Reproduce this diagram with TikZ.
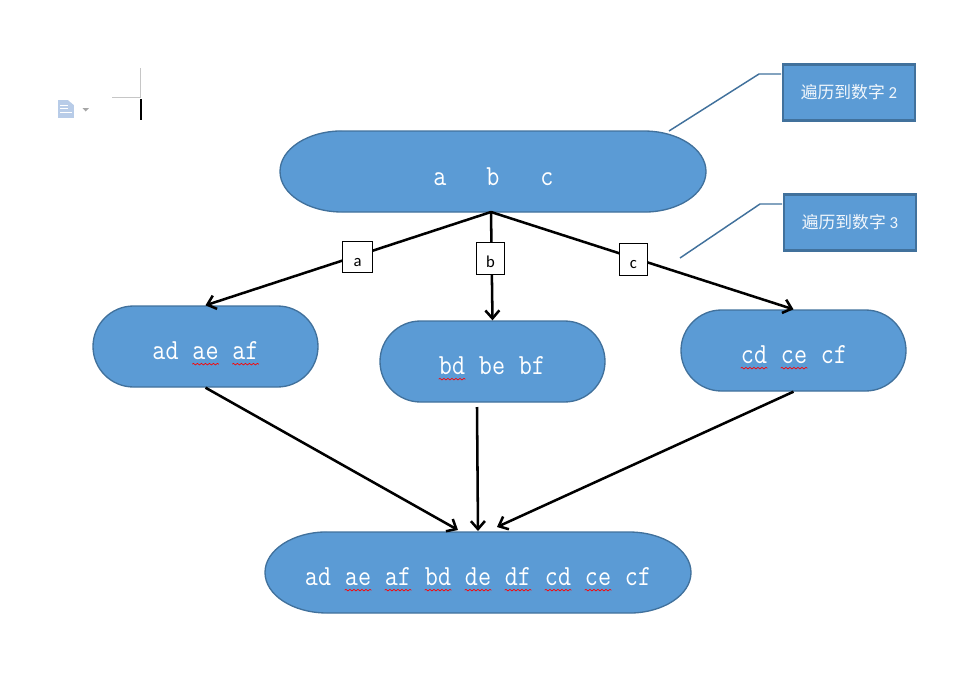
\documentclass[tikz,border=0pt]{standalone}
\usepackage{fontspec}
\setmainfont{Carlito}
\newfontfamily\cjk{Noto Sans CJK SC}
\usetikzlibrary{arrows.meta}
\usetikzlibrary{shapes.misc}
\usetikzlibrary{decorations.pathmorphing}
\definecolor{pillfill}{HTML}{5B9BD5}
\definecolor{pillline}{HTML}{41719C}
\definecolor{iconblue}{HTML}{B8CCE8}
\tikzset{
    pill/.style={
        rounded rectangle,
        draw=pillline,
        fill=pillfill,
        line width=1pt,
        minimum width=168.75pt,
        minimum height=60.75pt,
        inner sep=0pt
    },
    widepill/.style={
        draw=pillline,
        fill=pillfill,
        line width=1pt
    },
    anchorbox/.style={
        rectangle,
        minimum width=319.5pt,
        minimum height=60.75pt,
        inner sep=0pt
    },
    word/.style={
        anchor=base,
        inner sep=0pt,
        text=white,
        yscale=1.15,
        transform shape,
        font=\ttfamily\fontsize{19}{19}\selectfont
    },
    spell/.style={
        draw=red,
        line width=0.5pt,
        decorate,
        decoration={snake,amplitude=0.6pt,segment length=3pt}
    },
    callout/.style={
        rectangle,
        draw=pillline,
        fill=pillfill,
        line width=1.6pt,
        minimum width=99.5pt,
        minimum height=42pt,
        inner sep=0pt,
        text=white!92!pillfill,
        font=\fontsize{12.6}{12.6}\selectfont
    },
    leader/.style={
        draw=pillline,
        line width=1.1pt
    },
    tag/.style={
        rectangle,
        draw=black,
        fill=white,
        line width=0.6pt,
        minimum width=21.5pt,
        minimum height=23.5pt,
        inner sep=0pt,
        text=black,
        text height=13.5pt,
        text depth=0pt,
        font=\fontsize{12.5}{12.5}\selectfont
    },
    link/.style={
        draw=black,
        line width=1.9pt,
        -{Straight Barb[length=6pt,width=10.5pt]}
    }
}

\begin{document}
\begin{tikzpicture}[x=0.75pt,y=-0.75pt]
    \useasboundingbox (0,0) rectangle (965,693);

    % the two wide shapes have flatter ends
    \path[widepill] (342,131) -- (644,131) arc[start angle=90,end angle=-90,x radius=46.5pt,y radius=30.4pt] -- (342,212) arc[start angle=270,end angle=90,x radius=46.5pt,y radius=30.4pt] -- cycle;
    \path[widepill] (327,532) -- (629,532) arc[start angle=90,end angle=-90,x radius=46.5pt,y radius=30.4pt] -- (327,613) arc[start angle=270,end angle=90,x radius=46.5pt,y radius=30.4pt] -- cycle;
    \node[anchorbox] (top) at (493,171.5) {};
    \node[anchorbox] (bottom) at (478,572.5) {};

    \node[pill] (left) at (205.5,346.5) {};
    \node[pill] (middle) at (492.5,361.5) {};
    \node[pill] (right) at (793.5,350.5) {};

    \foreach \w/\xpos in {a/440,b/493,c/547}
        \node[word] (top\w) at (\xpos,185.5) {\w};
    \foreach \w/\xpos in {ad/165.5,ae/205.5,af/245.5}
        \node[word] (left\w) at (\xpos,359.5) {\w};
    \foreach \w/\xpos in {bd/452,be/492,bf/532}
        \node[word] (middle\w) at (\xpos,374.5) {\w};
    \foreach \w/\xpos in {cd/754,ce/794,cf/834}
        \node[word] (right\w) at (\xpos,363.5) {\w};
    \foreach \w/\xpos in {ad/318,ae/358,af/398,bd/438,de/478,df/518,cd/558,ce/598,cf/638}
        \node[word] (bottom\w) at (\xpos,585.5) {\w};

    \foreach \n in {leftae,leftaf,middlebd,rightcd,rightce,bottomae,bottomaf,bottombd,bottomde,bottomdf,bottomcd,bottomce}
        \path[spell] ([yshift=-3.5pt]\n.base west) -- ([yshift=-3.5pt]\n.base east);

    % arrows
    \coordinate (fan) at (491,212);
    \coordinate (midout) at (477,407);
    \coordinate (inleft) at (458,530);
    \coordinate (inmid) at (478,531);
    \coordinate (inright) at (497,527);
    \path[link] (fan) -- (left.north);
    \path[link] (fan) -- (middle.north);
    \path[link] (fan) -- (right.north);
    \path[link] (left.south) -- (inleft);
    \path[link] (midout) -- (inmid);
    \path[link] (right.south) -- (inright);

    \node[tag,minimum width=23pt] (taga) at (357.5,257) {a};
    \node[tag] (tagb) at (490.5,258.5) {b};
    \node[tag] (tagc) at (633.5,259.5) {c};

    % callouts
    \node[callout] (reach2) at (849,92.5) {{\cjk 遍历到数字} 2};
    \node[callout] (reach3) at (850,222.5) {{\cjk 遍历到数字} 3};
    \coordinate (lead2a) at (669,131);
    \coordinate (lead2b) at (759,74);
    \coordinate (lead2c) at (781,74);
    \coordinate (lead3a) at (680,258);
    \coordinate (lead3b) at (760,204);
    \coordinate (lead3c) at (782,204);
    \path[leader] (lead2a) -- (lead2b) -- (lead2c);
    \path[leader] (lead3a) -- (lead3b) -- (lead3c);

    % editor marks in the corner
    \draw[gray!45,line width=0.75pt] (112,97) -- (140,97) -- (140,68);
    \draw[black,line width=1.5pt] (141,99) -- (141,120);
    \fill[iconblue] (58,100) -- (74,100) -- (74,118) -- (58,118) -- cycle;
    \fill[white] (68,100) -- (74,100) -- (74,105) -- cycle;
    \foreach \ypos in {105,108,112}
        \draw[white,line width=0.7pt] (60,\ypos) -- (68,\ypos);
    \draw[white,line width=0.7pt] (60,112) -- (72,112);
    \fill[gray!70] (82.5,108) -- (89,108) -- (85.75,111.5) -- cycle;
\end{tikzpicture}
\end{document}
